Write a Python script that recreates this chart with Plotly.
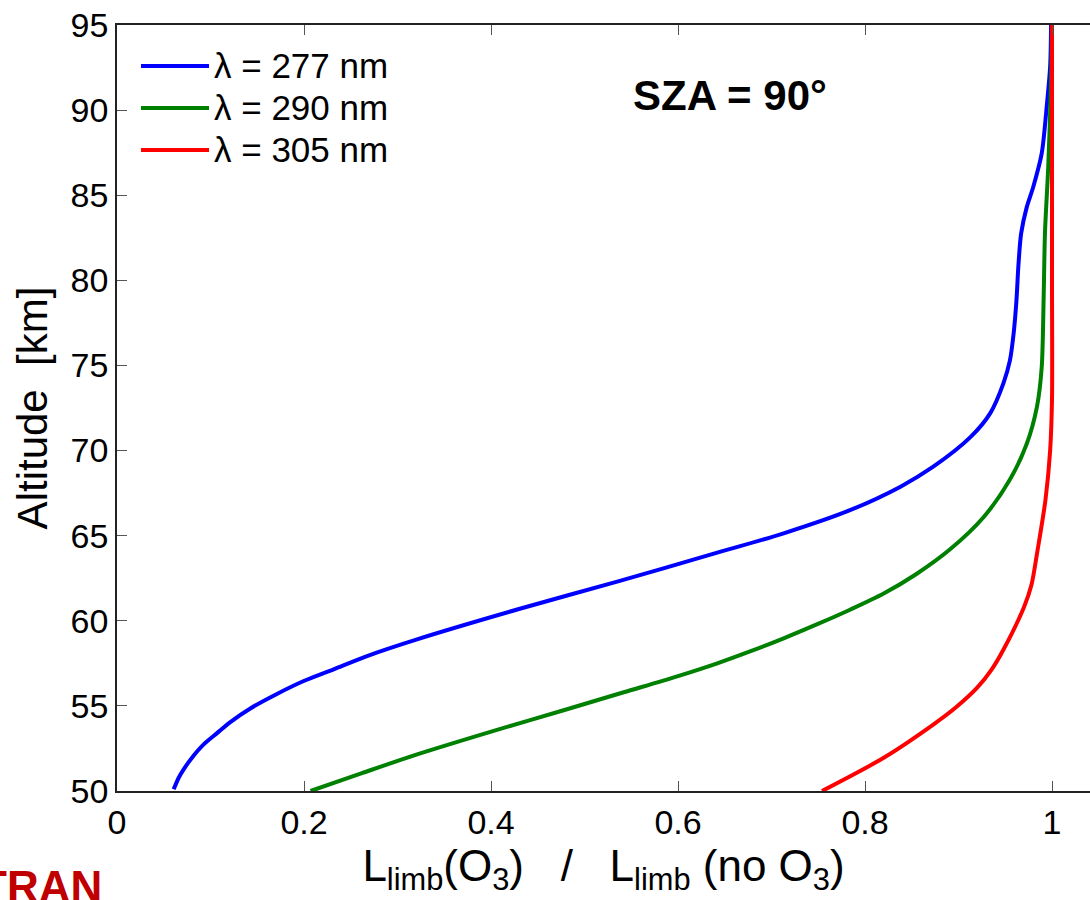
import plotly.graph_objects as go

# ---- data ----
alt_277 = [50.1, 50.78, 51.27, 51.96, 52.74, 53.4, 54.05, 54.85, 55.7, 56.46, 57.15, 57.93, 58.91,
           60.66, 62.3, 64.0, 65.14, 66.5, 67.88, 69.05, 70.8, 72.2, 73.95, 75.3, 76.9, 78.84, 80.8,
           82.76, 84.3, 85.5, 87.46, 90.0, 92.55, 95]
ratio_277 = [0.0606, 0.066, 0.0713, 0.0802, 0.0927, 0.107, 0.1212, 0.1426, 0.171, 0.1997, 0.2317, 0.2674, 0.3209,
             0.428, 0.535, 0.642, 0.713, 0.784, 0.838, 0.873, 0.913, 0.934, 0.948, 0.955, 0.959, 0.962, 0.964,
             0.967, 0.973, 0.980, 0.989, 0.994, 0.998, 0.999]

alt_290 = [50.0, 51.05, 52.15, 53.65, 54.7, 55.8, 56.75, 57.5, 58.2, 58.97, 59.8, 60.65, 61.6, 62.75,
           64.2, 66.1, 68.3, 70.4, 72.6, 74.9, 78.8, 82.8, 86.7, 91.6, 95]
ratio_290 = [0.207, 0.262, 0.321, 0.410, 0.475, 0.542, 0.600, 0.642, 0.677, 0.713, 0.749, 0.784, 0.820, 0.855,
             0.891, 0.927, 0.955, 0.973, 0.984, 0.989, 0.991, 0.9925, 0.996, 0.999, 1.0]

alt_305 = [50, 51.95, 53.9, 54.9, 56.07, 57.1, 58.3, 60.8, 62.1, 63.96, 67.1, 70.0, 73, 80, 90, 95]
ratio_305 = [0.754, 0.820, 0.873, 0.897, 0.920, 0.935, 0.948, 0.970, 0.978, 0.984, 0.993, 0.998, 1.0, 1.0, 1.0, 1.0]

series = [
    ("λ = 277 nm", ratio_277, alt_277, "#0000ff"),
    ("λ = 290 nm", ratio_290, alt_290, "#008000"),
    ("λ = 305 nm", ratio_305, alt_305, "#ff0000"),
]

x_ticks = [0, 0.2, 0.4, 0.6, 0.8, 1.0]
x_ticktext = ["0", "0.2", "0.4", "0.6", "0.8", "1"]
y_ticks = [50, 55, 60, 65, 70, 75, 80, 85, 90, 95]

FONT = "Liberation Sans, Arial, sans-serif"

fig = go.Figure()
for name, xs, ys, col in series:
    fig.add_trace(go.Scatter(x=xs, y=ys, mode="lines",
                             name="<span style='font-size:35px'>" + name + "</span>",
                             line=dict(color=col, width=4, shape="spline", smoothing=0.8)))

W, H = 1090, 900
L, R, T, B = 117, 0, 25, 109
pw, ph = W - L - R, H - T - B

def px(xp):
    return (xp - L) / pw

def py(yp):
    return (H - B - yp) / ph

fig.update_layout(
    width=W, height=H,
    margin=dict(l=L, r=R, t=T, b=B),
    paper_bgcolor="white", plot_bgcolor="white",
    font=dict(family=FONT, color="black", size=34),
    showlegend=True,
    legend=dict(x=px(136), y=py(40), xanchor="left", yanchor="top",
                bgcolor="rgba(255,255,255,0)", font=dict(size=30, family=FONT),
                itemwidth=68, tracegroupgap=0),
    xaxis=dict(range=[0, pw / 935], tickvals=x_ticks, ticktext=x_ticktext,
               ticks="inside", ticklen=10, tickcolor="#555", showgrid=False, zeroline=False,
               showline=True, linecolor="#222", linewidth=1.5, mirror="ticks",
               tickfont=dict(size=34), automargin=False,
               title=dict(text="L<sub>limb</sub>(O<sub>3</sub>)   /   L<sub>limb</sub> (no O<sub>3</sub>)",
                          font=dict(size=44), standoff=4)),
    yaxis=dict(range=[50, 95], tickvals=y_ticks, ticks="inside", ticklen=10, tickcolor="#555",
               showgrid=False, zeroline=False, showline=True, linecolor="#222", linewidth=1.5,
               tickfont=dict(size=34), automargin=False,
               title=dict(text="Altitude  [km]", font=dict(size=42), standoff=10)),
    annotations=[
        dict(text="<b>SZA = 90°</b>", xref="paper", yref="paper", x=px(730), y=py(96),
             xanchor="center", yanchor="middle", showarrow=False, font=dict(size=42)),
        dict(text="<b>TRAN</b>", xref="paper", yref="paper", x=px(104), y=py(860),
             xanchor="right", yanchor="top", showarrow=False,
             font=dict(size=44, color="#c00000")),
    ],
)

fig.write_html("out.html")
